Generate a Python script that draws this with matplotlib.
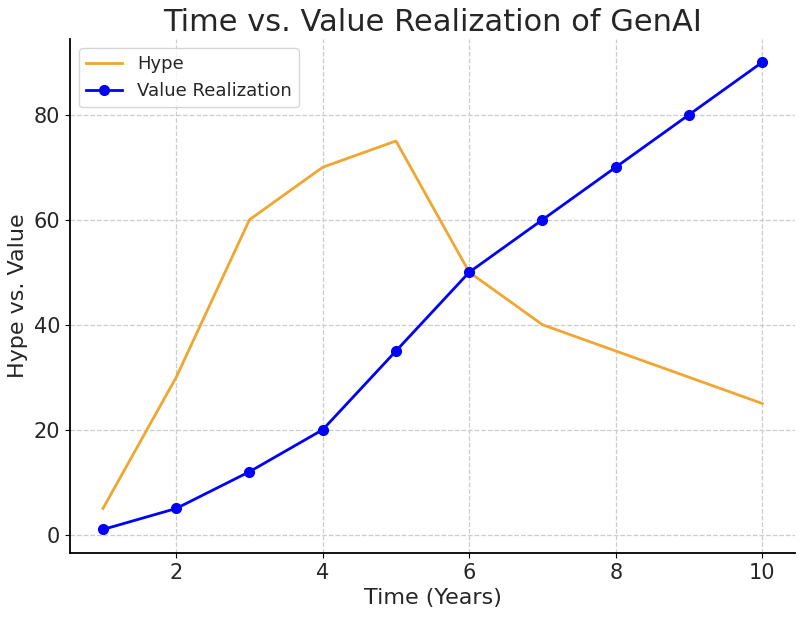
import matplotlib.pyplot as plt

years = [1, 2, 3, 4, 5, 6, 7, 8, 9, 10]
hype = [5, 30, 60, 70, 75, 50, 40, 35, 30, 25]
value_realization = [1, 5, 12, 20, 35, 50, 60, 70, 80, 90]

plt.rcParams["text.color"] = "#262626"
plt.rcParams["axes.labelcolor"] = "#262626"
plt.rcParams["xtick.labelcolor"] = "#262626"
plt.rcParams["ytick.labelcolor"] = "#262626"

fig, ax = plt.subplots(figsize=(8, 6.17), dpi=100)
fig.subplots_adjust(left=0.0875, right=0.994, top=0.937, bottom=0.104)

ax.plot(years, hype, label="Hype", color="#F0A630", linewidth=2)
ax.plot(years, value_realization, label="Value Realization", color="blue",
        marker="o", markersize=7, linewidth=2)

ax.set_title("Time vs. Value Realization of GenAI", fontsize=22)
ax.set_xlabel("Time (Years)", fontsize=16)
ax.set_ylabel("Hype vs. Value", fontsize=16)
ax.tick_params(labelsize=15)
ax.grid(True, linestyle="--", color="#cccccc", linewidth=0.9)
ax.spines["top"].set_visible(False)
ax.spines["right"].set_visible(False)
ax.spines["left"].set_linewidth(1.3)
ax.spines["bottom"].set_linewidth(1.3)
ax.legend(loc="upper left", fontsize=13)

plt.savefig("out.png")
